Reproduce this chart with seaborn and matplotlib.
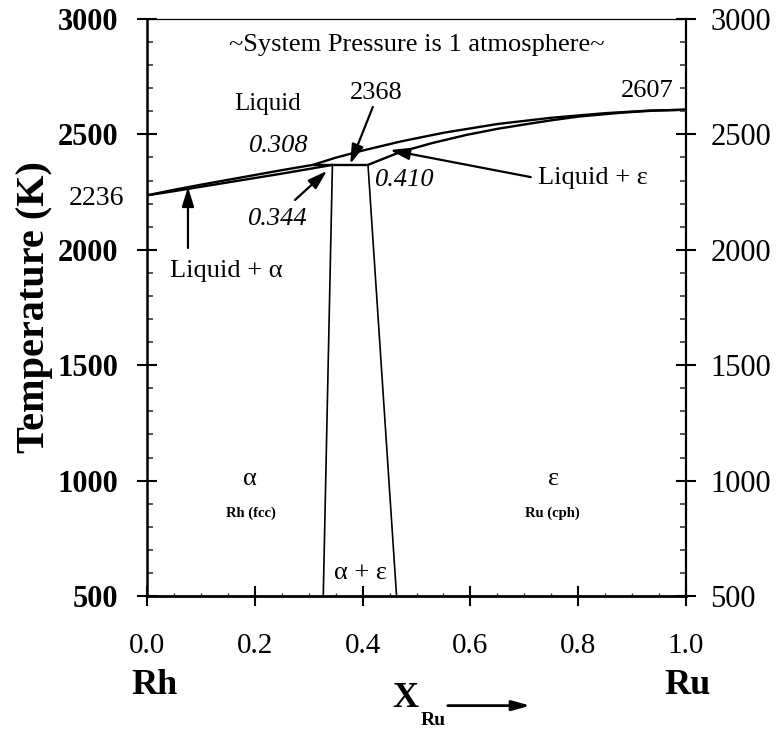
import matplotlib
matplotlib.use("Agg")
import matplotlib.pyplot as plt
import seaborn as sns
from matplotlib.ticker import MultipleLocator, FixedFormatter, FixedLocator

# Rh-Ru phase diagram: phase boundaries (composition X_Ru, temperature K)
liquidus_left_x = [0.0, 0.05, 0.10, 0.15, 0.20, 0.25, 0.308]
liquidus_left_T = [2236, 2260, 2282, 2303, 2324, 2345, 2368]

solidus_alpha_x = [0.0, 0.05, 0.10, 0.15, 0.20, 0.25, 0.30, 0.344]
solidus_alpha_T = [2236, 2254, 2273, 2292, 2311, 2330, 2350, 2368]

liquidus_right_x = [0.308, 0.35, 0.40, 0.47, 0.55, 0.65, 0.75, 0.85, 0.93, 1.0]
liquidus_right_T = [2368, 2399, 2430, 2469, 2507, 2545, 2572, 2592, 2603, 2607]

solidus_eps_x = [0.410, 0.47, 0.53, 0.593, 0.65, 0.70, 0.75, 0.80, 0.88, 0.94, 1.0]
solidus_eps_T = [2368, 2424, 2463, 2498, 2524, 2543, 2561, 2577, 2594, 2603, 2607]

peritectic_x = [0.308, 0.410]
peritectic_T = [2368, 2368]

solvus_alpha_x = [0.344, 0.327]
solvus_alpha_T = [2368, 500]

solvus_eps_x = [0.410, 0.463]
solvus_eps_T = [2368, 500]

y_ticks = [500, 1000, 1500, 2000, 2500, 3000]
x_ticks = [0.0, 0.2, 0.4, 0.6, 0.8, 1.0]
x_tick_labels = ["0.0", "0.2", "0.4", "0.6", "0.8", "1.0"]

sns.set_theme(style="white")
plt.rcParams["font.family"] = ["Liberation Serif", "DejaVu Serif"]
plt.rcParams["axes.grid"] = False

fig = plt.figure(figsize=(7.78, 7.30), dpi=100)
ax = fig.add_axes([147 / 778, 1 - 596 / 730, 539 / 778, 577 / 730])
ax.set_facecolor("white")

thick = [
    (liquidus_left_x, liquidus_left_T),
    (solidus_alpha_x, solidus_alpha_T),
    (liquidus_right_x, liquidus_right_T),
    (solidus_eps_x, solidus_eps_T),
    (peritectic_x, peritectic_T),
]
thin = [
    (solvus_alpha_x, solvus_alpha_T),
    (solvus_eps_x, solvus_eps_T),
]
for bx, bt in thick:
    sns.lineplot(x=bx, y=bt, ax=ax, color="black", lw=1.7, sort=False,
                 estimator=None, legend=False)
for bx, bt in thin:
    sns.lineplot(x=bx, y=bt, ax=ax, color="black", lw=1.2, sort=False,
                 estimator=None, legend=False)

ax.set_xlim(0, 1)
ax.set_ylim(500, 3000)
ax.set_xlabel("")

# spines
for side, lw in [("left", 1.8), ("bottom", 2.0), ("right", 1.6), ("top", 0.9)]:
    ax.spines[side].set_visible(True)
    ax.spines[side].set_linewidth(lw)
    ax.spines[side].set_color("black")

# x axis ticks
ax.xaxis.set_major_locator(FixedLocator(x_ticks))
ax.xaxis.set_major_formatter(FixedFormatter(x_tick_labels))
ax.xaxis.set_minor_locator(MultipleLocator(0.05))
ax.tick_params(axis="x", which="major", direction="inout", length=15, width=1.5,
               labelsize=21, pad=19, bottom=True, top=False, colors="black")
ax.tick_params(axis="x", which="minor", direction="in", length=2.5, width=1.0,
               bottom=True, top=False)

# left y axis ticks
ax.yaxis.set_major_locator(FixedLocator(y_ticks))
ax.yaxis.set_minor_locator(MultipleLocator(100))
ax.tick_params(axis="y", which="major", direction="inout", length=15, width=1.5,
               labelsize=22, pad=13, left=True, right=False, colors="black")
ax.tick_params(axis="y", which="minor", direction="in", length=4.5, width=1.1,
               left=True, right=False)
for lab in ax.get_yticklabels():
    lab.set_fontweight("bold")

# right y axis
ax2 = ax.twinx()
ax2.set_ylim(500, 3000)
ax2.grid(False)
for side in ["left", "bottom", "right", "top"]:
    ax2.spines[side].set_visible(False)
ax2.yaxis.set_major_locator(FixedLocator(y_ticks))
ax2.yaxis.set_minor_locator(MultipleLocator(100))
ax2.tick_params(axis="y", which="major", direction="inout", length=15, width=1.5,
                labelsize=22, pad=10, right=True, left=False, colors="black")
ax2.tick_params(axis="y", which="minor", direction="in", length=4.5, width=1.1,
                right=True, left=False)

ax.set_ylabel("Temperature (K)", fontsize=29, fontweight="bold", color="black")
ax.yaxis.set_label_coords(-0.174, 0.5)

txt = dict(color="black", ha="center", va="center")
ax.text(0.5, 2887, "~System Pressure is 1 atmosphere~", fontsize=19, **txt)
ax.text(0.2245, 2632, "Liquid", fontsize=18, **txt)
ax.text(0.4249, 2679, "2368", fontsize=19, **txt)
ax.text(0.9276, 2690, "2607", fontsize=19, **txt)
ax.text(0.245, 2450, "0.308", fontsize=19, style="italic", **txt)
ax.text(0.4787, 2302, "0.410", fontsize=19, style="italic", **txt)
ax.text(0.242, 2133, "0.344", fontsize=19, style="italic", **txt)
ax.text(-0.0937, 2224, "2236", fontsize=20, clip_on=False, **txt)
ax.text(0.8265, 2309, "Liquid + \u03b5", fontsize=19, **txt)
ax.text(0.1475, 1908, "Liquid + \u03b1", fontsize=19, **txt)
ax.text(0.191, 1005, "\u03b1", fontsize=19, **txt)
ax.text(0.754, 1005, "\u03b5", fontsize=19, **txt)
ax.text(0.193, 858, "Rh (fcc)", fontsize=10.5, fontweight="bold", **txt)
ax.text(0.752, 858, "Ru (cph)", fontsize=10.5, fontweight="bold", **txt)
ax.text(0.3967, 600, "\u03b1 + \u03b5", fontsize=19, **txt)

arrow = dict(arrowstyle="-|>,head_length=0.9,head_width=0.28", color="black",
             lw=1.6, mutation_scale=13, shrinkA=0, shrinkB=0)
ax.annotate("", xy=(0.377, 2372), xytext=(0.419, 2619), arrowprops=arrow)
ax.annotate("", xy=(0.334, 2342), xytext=(0.2746, 2216), arrowprops=arrow)
ax.annotate("", xy=(0.076, 2272), xytext=(0.076, 2008), arrowprops=arrow)
ax.annotate("", xy=(0.451, 2432), xytext=(0.712, 2315), arrowprops=arrow)

# composition axis end-member labels
xt = ax.get_xaxis_transform()
ax.text(0.013, -0.155, "Rh", transform=xt, fontsize=26, fontweight="bold",
        clip_on=False, **txt)
ax.text(1.0037, -0.155, "Ru", transform=xt, fontsize=26, fontweight="bold",
        clip_on=False, **txt)
ax.text(0.4787, -0.178, "X", transform=xt, fontsize=26, fontweight="bold",
        clip_on=False, **txt)
ax.text(0.5306, -0.2166, "Ru", transform=xt, fontsize=14, fontweight="bold",
        clip_on=False, **txt)
ax.annotate("", xy=(0.711, -0.19), xytext=(0.558, -0.19), xycoords=xt,
            textcoords=xt, annotation_clip=False,
            arrowprops=dict(arrowstyle="-|>,head_length=0.9,head_width=0.25",
                            color="black", lw=2.0, mutation_scale=12,
                            shrinkA=0, shrinkB=0))

fig.savefig("out.png", dpi=100, facecolor="white")
